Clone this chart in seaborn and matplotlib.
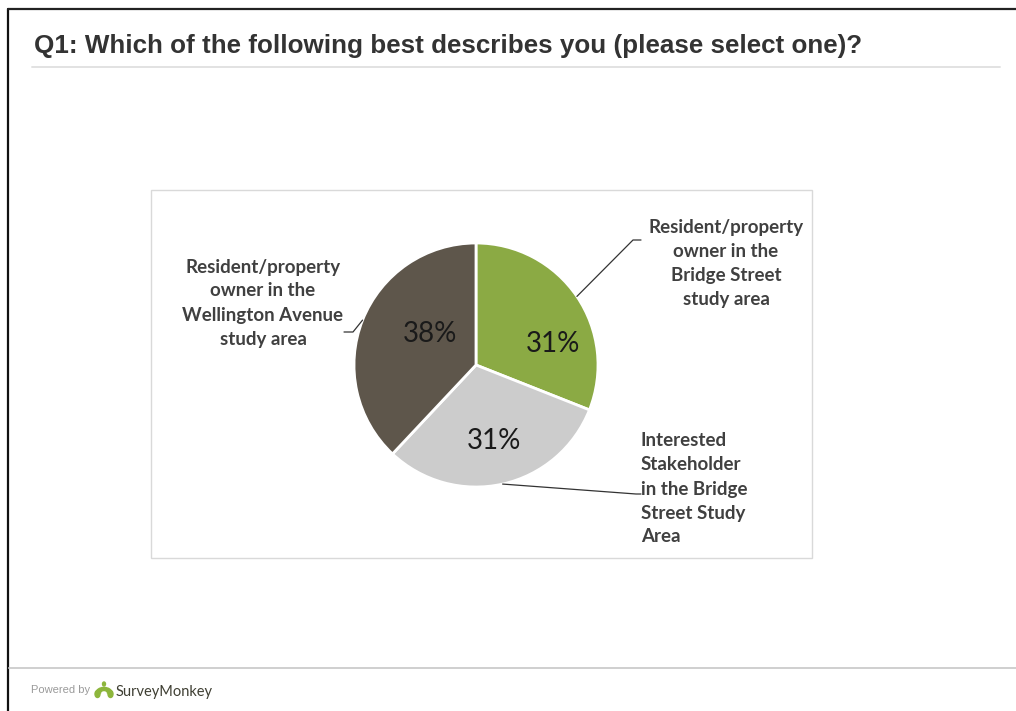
import numpy as np
import matplotlib
matplotlib.use("Agg")
import matplotlib.pyplot as plt
from matplotlib.patches import Rectangle, Wedge, Ellipse
from matplotlib.lines import Line2D
import seaborn as sns

# Survey responses for Q1
categories = [
    "Resident/property\nowner in the\nBridge Street\nstudy area",
    "Interested\nStakeholder\nin the Bridge\nStreet Study\nArea",
    "Resident/property\nowner in the\nWellington Avenue\nstudy area",
]
shares = [31, 31, 38]
pct_labels = ["31%", "31%", "38%"]
slice_colors = ["#8BAA44", "#CCCCCC", "#5E564B"]

title = "Q1: Which of the following best describes you (please select one)?"

sns.set_theme(style="white")
plt.rcParams["font.family"] = ["Liberation Sans", "DejaVu Sans"]

W, H = 1016, 711
fig = plt.figure(figsize=(W / 100, H / 100), dpi=100)
fig.patch.set_facecolor("white")


def fx(x):
    return x / W


def fy(y):
    return 1 - y / H


# page frame and separators
fig.add_artist(Line2D([fx(8), fx(8)], [fy(9), fy(711)], color="#111111", lw=1.6))
fig.add_artist(Line2D([fx(8), fx(1016)], [fy(9), fy(9)], color="#222222", lw=1.6))
fig.add_artist(Line2D([fx(32), fx(1000)], [fy(67), fy(67)], color="#E2E2E2", lw=1.4))
fig.add_artist(Line2D([fx(9), fx(1016)], [fy(668), fy(668)], color="#CFCFCF", lw=1.4))

fig.text(fx(34), fy(46), title, fontsize=18.7, fontweight="bold", color="#333333",
         ha="left", va="center")

# chart area border
fig.add_artist(Rectangle((fx(151), fy(558)), fx(812) - fx(151), fy(190) - fy(558),
                         transform=fig.transFigure, fill=False, ec="#D9D9D9", lw=1.0))

# pie axes
cx, cy, R = 476, 365, 122
ax = fig.add_axes([fx(cx - R), fy(cy + R), 2 * R / W, 2 * R / H])
palette = sns.color_palette(slice_colors)
wedges, _ = ax.pie(shares, colors=palette, startangle=90, counterclock=False,
                   wedgeprops=dict(edgecolor="white", linewidth=2))
ax.set_xlim(-1, 1)
ax.set_ylim(-1, 1)
ax.set_aspect("equal")
ax.axis("off")

label_font = ["Lato", "DejaVu Sans"]
text_color = "#404040"

# percentage labels (pixel positions)
pct_pos = [(553, 344), (494, 441), (430, 334)]
for (px, py), lab in zip(pct_pos, pct_labels):
    fig.text(fx(px), fy(py), lab, fontsize=20, family=label_font, color="#1a1a1a",
             ha="center", va="center")

# category labels with leader lines
label_specs = [
    # text anchor, alignment, elbow point, end point
    dict(pos=(726, 263), ha="center", elbow=(633, 240), end=(641, 240)),
    dict(pos=(641, 489), ha="left", elbow=(636, 494), end=(641, 494)),
    dict(pos=(263, 303), ha="center", elbow=(353, 332), end=(344, 332)),
]
for w, cat, spec in zip(wedges, categories, label_specs):
    mid = np.deg2rad((w.theta1 + w.theta2) / 2)
    ex = cx + R * np.cos(mid)
    ey = cy - R * np.sin(mid)
    xs = [fx(ex), fx(spec["elbow"][0]), fx(spec["end"][0])]
    ys = [fy(ey), fy(spec["elbow"][1]), fy(spec["end"][1])]
    fig.add_artist(Line2D(xs, ys, color="#333333", lw=0.9))
    fig.text(fx(spec["pos"][0]), fy(spec["pos"][1]), cat, fontsize=13.5,
             fontweight="bold", family=label_font, color=text_color,
             ha=spec["ha"], va="center", multialignment=spec["ha"],
             linespacing=1.5)

# footer
fig.text(fx(31), fy(690), "Powered by", fontsize=8, color="#9A9A9A",
         ha="left", va="center")
green = "#8DB63C"
icx, icy = 104, 693
fig.add_artist(Wedge((fx(icx), fy(icy)), 8 / W, 0, 180, width=4.5 / W,
                     transform=fig.transFigure, color=green))
for dx in (-6.5, 6.5):
    fig.add_artist(Ellipse((fx(icx + dx), fy(icy + 1)), 5 / W, 7 / H,
                           transform=fig.transFigure, color=green))
fig.add_artist(Ellipse((fx(icx), fy(icy - 9)), 3 / W, 4 / H,
                       transform=fig.transFigure, color=green))
fig.text(fx(116), fy(692), "SurveyMonkey", fontsize=10.5, family=["Lato", "DejaVu Sans"],
         color="#3F3F33", ha="left", va="center")

fig.savefig("out.png", dpi=100, facecolor="white")
